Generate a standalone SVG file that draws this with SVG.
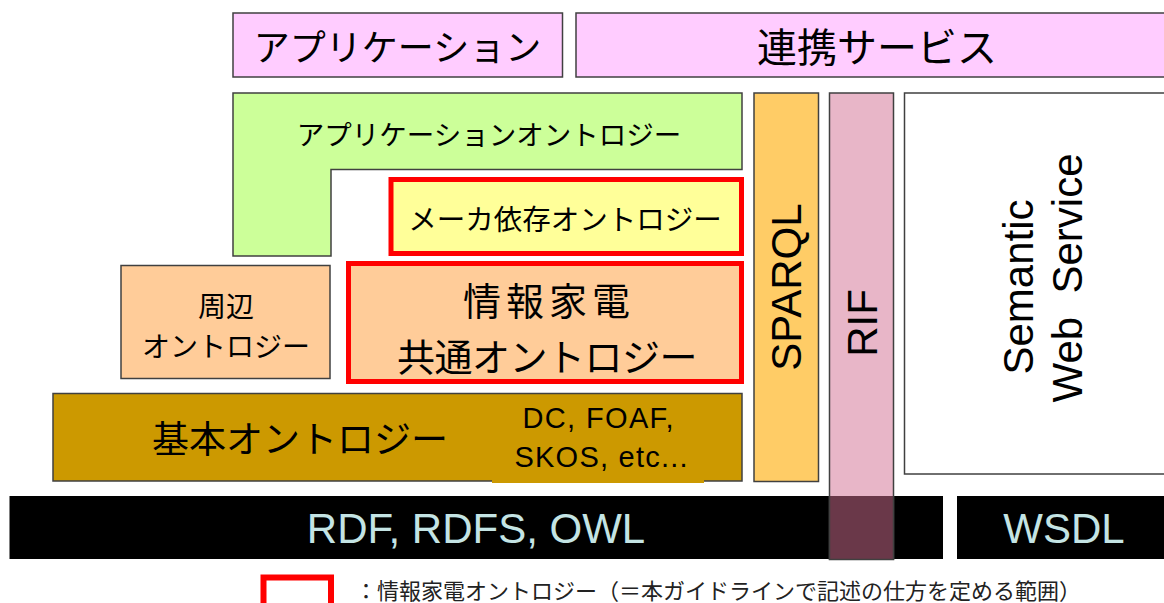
<svg xmlns="http://www.w3.org/2000/svg" width="1164" height="603" viewBox="0 0 1164 603">
<style>
.b{stroke:#404040;stroke-width:1.5}
.r{stroke:#FF0000;stroke-width:5}
.jp{font-family:"Noto Sans CJK JP","Noto Sans",sans-serif;fill:#000;text-anchor:middle;dominant-baseline:central}
.en{font-family:"Liberation Sans",Arial,sans-serif;fill:#000;text-anchor:middle;dominant-baseline:central}
</style>
<rect width="1164" height="603" fill="#FFFFFF"/>
<g id="app">
<rect class="b" x="233" y="13" width="329.5" height="64" fill="#FFCCFF"/>
<text class="jp" x="397.5" y="45" font-size="36">アプリケーション</text>
</g>
<g id="renkei">
<rect class="b" x="576" y="13" width="595" height="64" fill="#FFCCFF"/>
<text class="jp" x="877" y="45" font-size="40">連携サービス</text>
</g>
<g id="appOnto">
<path class="b" d="M233,93 H742 V169.5 H331 V256 H233 Z" fill="#CCFF99"/>
<text class="jp" x="489" y="133" font-size="27.5">アプリケーションオントロジー</text>
</g>
<g id="maker">
<rect class="r" x="391" y="179.5" width="350.5" height="74" fill="#FFFF99"/>
<text class="jp" x="565" y="217" font-size="28.5">メーカ依存オントロジー</text>
</g>
<g id="shuhen">
<rect class="b" x="121" y="265.5" width="209" height="113" fill="#FFCC99"/>
<text class="jp" x="226" y="305" font-size="28">周辺</text>
<text class="jp" x="226" y="345" font-size="28">オントロジー</text>
</g>
<g id="kyotsu">
<rect class="r" x="348.5" y="263.5" width="393" height="118" fill="#FFCC99"/>
<text class="jp" x="549" y="298" font-size="38" letter-spacing="5">情報家電</text>
<text class="jp" x="547" y="354" font-size="38" letter-spacing="-0.5">共通オントロジー</text>
</g>
<g id="kihon">
<rect class="b" x="53" y="393.5" width="689" height="87.5" fill="#CC9900"/>
<rect x="492" y="477" width="212" height="6" fill="#CC9900"/>
<text class="jp" x="300" y="437" font-size="37">基本オントロジー</text>
<text class="en" x="598" y="418" font-size="29" textLength="151">DC, FOAF,</text>
<text class="en" x="601" y="457" font-size="29" textLength="173">SKOS, etc...</text>
</g>
<g id="sparql">
<rect class="b" x="754" y="93" width="64.5" height="388.5" fill="#FFCC66"/>
<text class="en" transform="translate(786,287) rotate(-90)" font-size="42">SPARQL</text>
</g>
<g id="sws">
<rect class="b" x="904.5" y="93" width="270" height="381" fill="#FFFFFF"/>
<text class="en" transform="translate(1018,287) rotate(-90)" font-size="42">Semantic</text>
<text class="en" transform="translate(1067,278) rotate(-90)" font-size="42" xml:space="preserve">Web  Service</text>
</g>
<g id="rdf">
<rect x="9.5" y="496" width="933.5" height="63" fill="#000000"/>
<text class="en" x="476" y="528" font-size="42" style="fill:#C4E4E4">RDF, RDFS, OWL</text>
</g>
<g id="wsdl">
<rect x="957" y="496" width="215" height="63" fill="#000000"/>
<text class="en" x="1064" y="528" font-size="42" style="fill:#C4E4E4">WSDL</text>
</g>
<g id="rif">
<rect class="b" x="829.5" y="93" width="64" height="466" fill="#E8B6C8"/>
<rect x="830" y="496" width="63" height="63" fill="#6A3849"/>
<path d="M829.5,496 V559.5 H893.5 V496" fill="none" stroke="#404040" stroke-width="1.5"/>
<text class="en" transform="translate(862,323) rotate(-90)" font-size="42">RIF</text>
</g>
<g id="legend">
<rect x="263.5" y="577.5" width="67.5" height="50" fill="none" stroke="#FF0000" stroke-width="6"/>
<text x="355" y="589" font-size="22" style="font-family:'Noto Sans CJK JP','Noto Sans',sans-serif;fill:#222;dominant-baseline:central">：情報家電オントロジー（＝本ガイドラインで記述の仕方を定める範囲）</text>
</g>
<g id="connectors"></g>
</svg>
